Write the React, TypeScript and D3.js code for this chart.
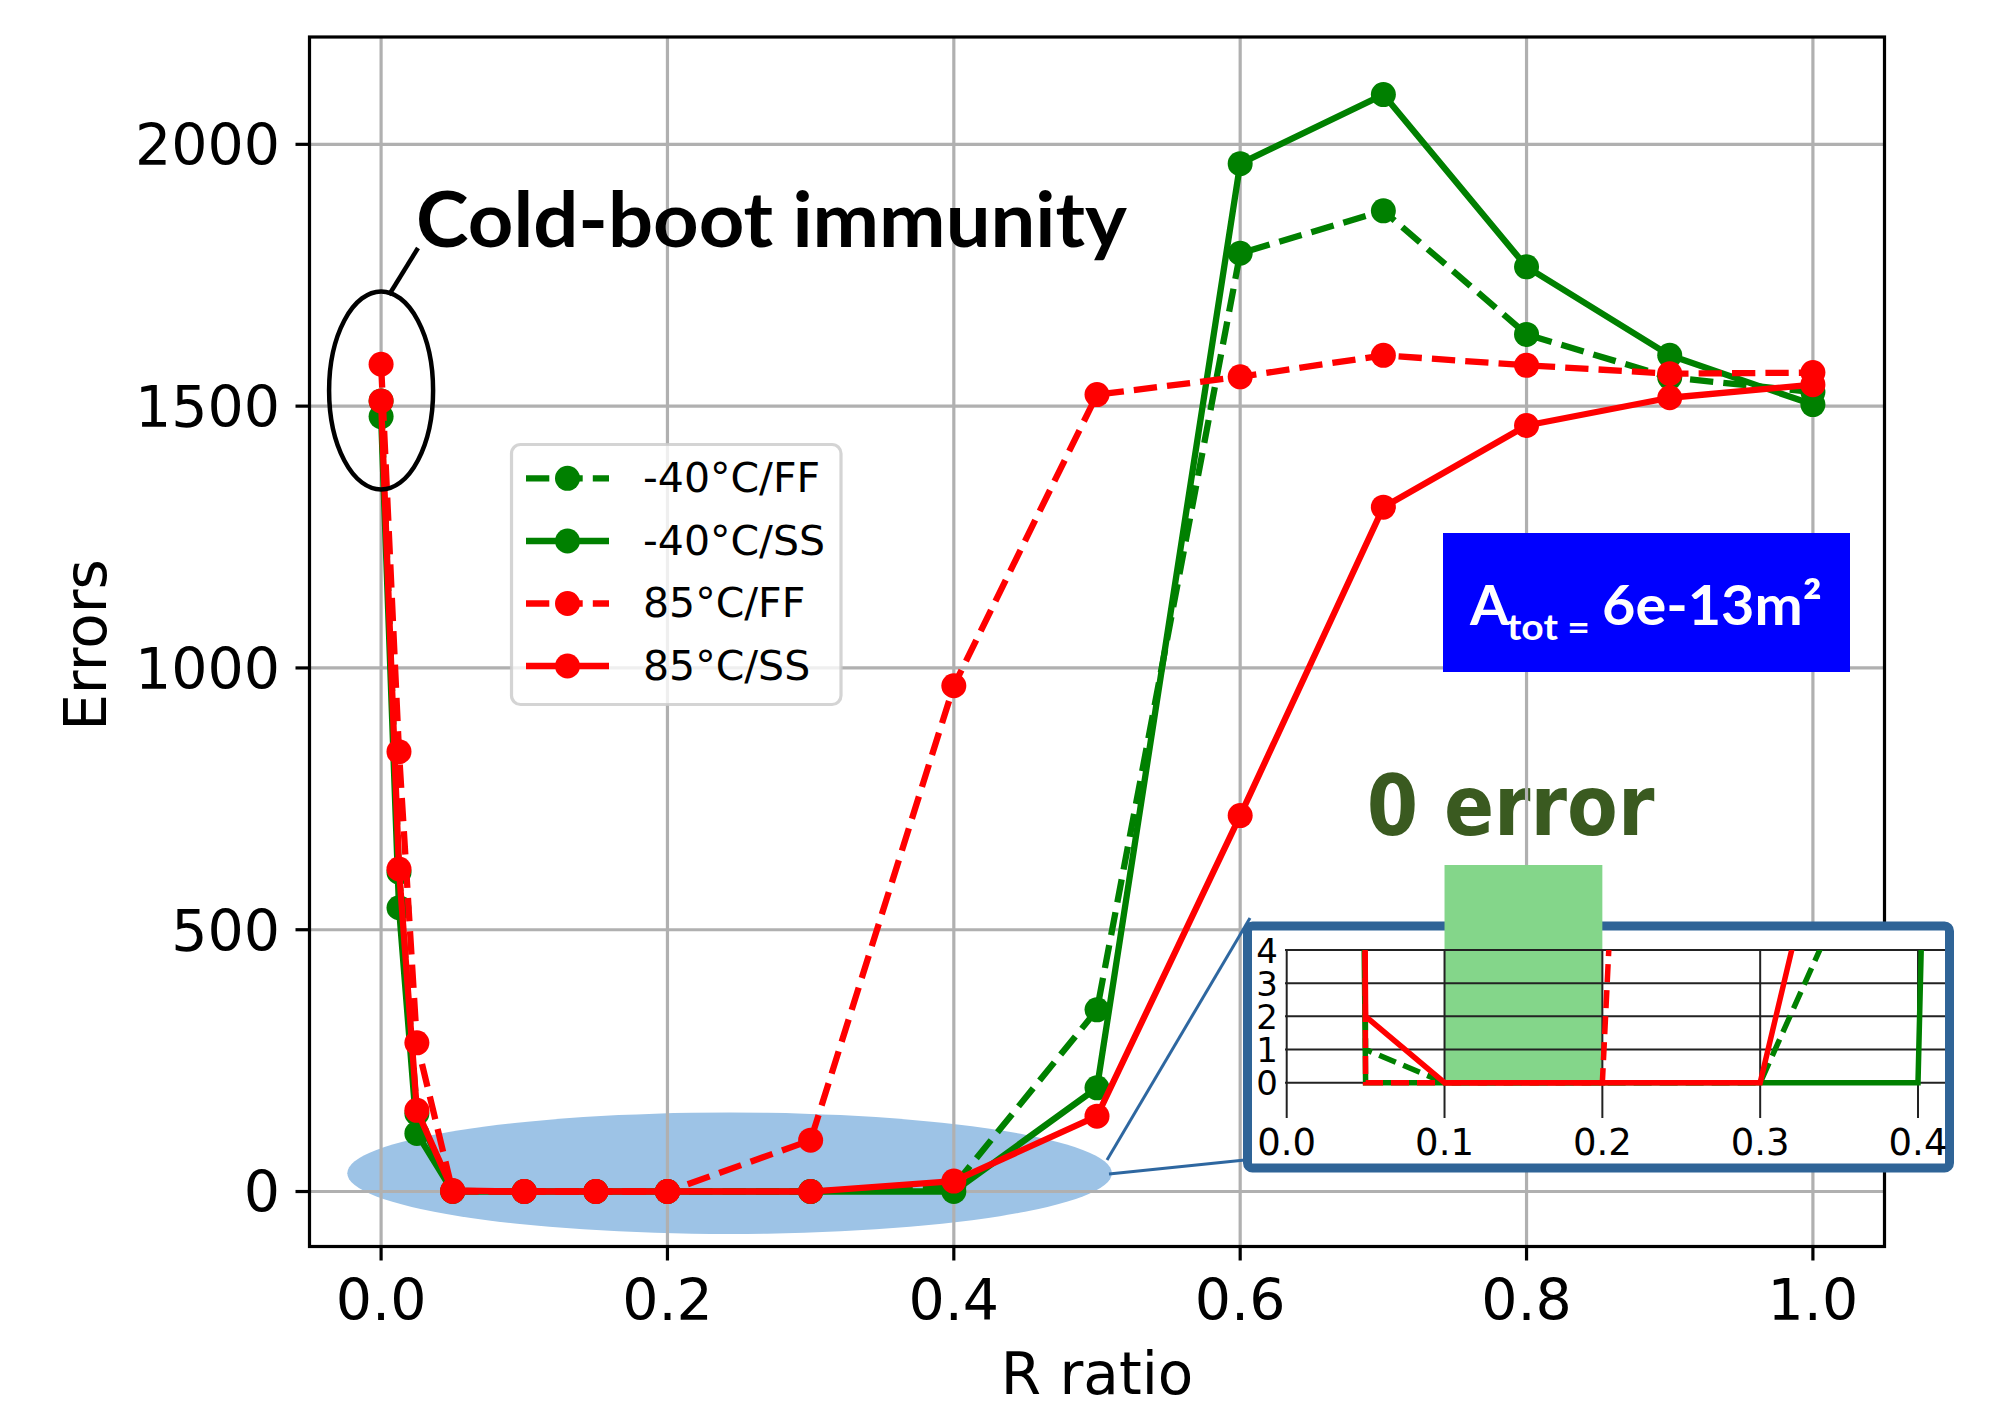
import React from 'react';
import * as d3 from 'd3';

// ---------- data ----------
const rRatio = [0, 0.0125, 0.025, 0.05, 0.1, 0.15, 0.2, 0.3, 0.4, 0.5, 0.6, 0.7, 0.8, 0.9, 1.0];
const errM40FF = [1510, 610, 149, 1, 0, 0, 0, 0, 10.6, 347, 1792, 1873, 1637, 1555, 1527];
const errM40SS = [1480, 542, 111, 0, 0, 0, 0, 0, 0, 198, 1963, 2095, 1766, 1597, 1503];
const err85FF = [1580, 840, 284, 0, 0, 0, 0, 98, 966, 1522, 1556, 1597, 1578, 1562, 1564];
const err85SS = [1510, 616, 155, 2, 0, 0, 0, 0, 20, 144, 718, 1307, 1463, 1516, 1541];
const seriesNames = ['-40°C/FF', '-40°C/SS', '85°C/FF', '85°C/SS'];
const xTicks = [0, 0.2, 0.4, 0.6, 0.8, 1.0];
const yTicks = [0, 500, 1000, 1500, 2000];
const insetXTicks = [0, 0.1, 0.2, 0.3, 0.4];
const insetYTicks = [0, 1, 2, 3, 4];

// ---------- styles ----------
const seriesAll = [errM40FF, errM40SS, err85FF, err85SS];
const seriesColors = ['#008000', '#008000', '#ff0000', '#ff0000'];
const seriesDashed = [true, false, true, false];

const W = 2000;
const H = 1404;
const PL = 309.5, PR = 1884.5, PT = 37, PB = 1246.5;
const GRID = '#b0b0b0';
const FONT = '"DejaVu Sans", sans-serif';
const CAL = 'Lato, "Open Sans", sans-serif';

export default function App() {
  const x = d3.scaleLinear().domain([-0.05, 1.05]).range([PL, PR]);
  const y = d3.scaleLinear().domain([-105, 2205]).range([PB, PT]);

  const xi = d3.scaleLinear().domain([0, 0.4]).range([1286.7, 1918]);
  const yi = d3.scaleLinear().domain([0, 4]).range([1082.7, 950]);

  const line = d3.line<[number, number]>().x(d => x(d[0])).y(d => y(d[1]));
  const lineI = d3.line<[number, number]>().x(d => xi(d[0])).y(d => yi(d[1]));
  const pts = (vals: number[]) => rRatio.map((r, i) => [r, vals[i]] as [number, number]);
  const fmt = d3.format('.1f');

  const legendRows = [478.3, 541, 603.5, 666];

  return (
    <svg width={W} height={H} style={{ position: 'absolute', left: 0, top: 0, background: '#fff' }}
      xmlns="http://www.w3.org/2000/svg">
      <defs>
        <clipPath id="plotClip">
          <rect x={PL} y={PT} width={PR - PL} height={PB - PT} />
        </clipPath>
        <clipPath id="insetClip">
          <rect x={1286} y={950} width={662} height={145} />
        </clipPath>
      </defs>
      <rect x={0} y={0} width={W} height={H} fill="#fff" />

      {/* 0 error text (beneath grid) */}
      <g transform="translate(1366.7,835) scale(1,1.12)">
        <text x={0} y={0} fontFamily={FONT} fontWeight="bold" fontSize={74} fill="#3a5a20">0 error</text>
      </g>

      {/* blue highlight ellipse */}
      <ellipse cx={x(0.2434)} cy={y(35)} rx={x(0.2434 + 0.267) - x(0.2434)} ry={y(-116) - y(0)}
        fill="#9dc3e6" />

      {/* grid */}
      <g stroke={GRID} strokeWidth={3.2}>
        {xTicks.map(t => <line key={'gx' + t} x1={x(t)} x2={x(t)} y1={PT} y2={PB} />)}
        {yTicks.map(t => <line key={'gy' + t} x1={PL} x2={PR} y1={y(t)} y2={y(t)} />)}
      </g>

      {/* ticks and labels */}
      <g stroke="#000" strokeWidth={3.2}>
        {xTicks.map(t => <line key={'tx' + t} x1={x(t)} x2={x(t)} y1={PB} y2={PB + 14} />)}
        {yTicks.map(t => <line key={'ty' + t} x1={PL - 14} x2={PL} y1={y(t)} y2={y(t)} />)}
      </g>
      <g fontFamily={FONT} fontSize={57} fill="#000">
        {xTicks.map(t => (
          <text key={'lx' + t} x={x(t)} y={1320} textAnchor="middle">{fmt(t)}</text>
        ))}
        {yTicks.map(t => (
          <text key={'ly' + t} x={280} y={y(t) + 20.8} textAnchor="end">{t}</text>
        ))}
      </g>
      <text x={(PL + PR) / 2} y={1394} textAnchor="middle" fontFamily={FONT} fontSize={58}>R ratio</text>
      <text transform={`translate(106,645) rotate(-90)`} textAnchor="middle" fontFamily={FONT} fontSize={58}>Errors</text>

      {/* data lines */}
      <g clipPath="url(#plotClip)">
        {seriesAll.map((vals, si) => (
          <g key={'s' + si}>
            <path d={line(pts(vals)) || ''} fill="none" stroke={seriesColors[si]} strokeWidth={6.3}
              strokeDasharray={seriesDashed[si] ? '23.3 10.1' : undefined} strokeLinejoin="round" />
            {pts(vals).map((p, i) => (
              <circle key={i} cx={x(p[0])} cy={y(p[1])} r={12.5} fill={seriesColors[si]} />
            ))}
          </g>
        ))}
      </g>

      {/* spines */}
      <rect x={PL} y={PT} width={PR - PL} height={PB - PT} fill="none" stroke="#000" strokeWidth={3.2} />

      {/* legend */}
      <rect x={511.5} y={444.5} width={329.5} height={260} rx={9} fill="#fff" fillOpacity={0.8}
        stroke="#cccccc" strokeOpacity={0.85} strokeWidth={3.2} />
      {seriesNames.map((nm, i) => (
        <g key={'lg' + i}>
          <line x1={526} x2={609} y1={legendRows[i]} y2={legendRows[i]} stroke={seriesColors[i]} strokeWidth={6.3}
            strokeDasharray={seriesDashed[i] ? '23.3 10.1' : undefined} />
          <circle cx={567.5} cy={legendRows[i]} r={12.5} fill={seriesColors[i]} />
          <text x={643} y={legendRows[i] + 13.8} fontFamily={FONT} fontSize={41}>{nm}</text>
        </g>
      ))}

      {/* cold-boot annotation */}
      <ellipse cx={x(0)} cy={y(1530)} rx={52} ry={99} fill="none" stroke="#000" strokeWidth={4.5} />
      <line x1={389} y1={295} x2={418} y2={248} stroke="#000" strokeWidth={4.5} />
      <text x={416} y={246.7} fontFamily={CAL} fontWeight="bold" fontSize={76} textLength={711}
        lengthAdjust="spacingAndGlyphs">Cold-boot immunity</text>

      {/* area box */}
      <rect x={1443} y={533} width={407} height={139} fill="#0000ff" />
      <g fontFamily={CAL} fontWeight="bold" fill="#fff">
        <text x={1470} y={625} fontSize={56}>A</text>
        <text x={1507} y={640} fontSize={36} textLength={83} lengthAdjust="spacingAndGlyphs">tot =</text>
        <text x={1602} y={625} fontSize={56} textLength={220} lengthAdjust="spacingAndGlyphs">6e-13m²</text>
      </g>

      {/* connectors */}
      <line x1={1107} y1={1160} x2={1250} y2={918} stroke="#2e67a0" strokeWidth={3} />
      <line x1={1109} y1={1174} x2={1245} y2={1160} stroke="#2e67a0" strokeWidth={3} />

      {/* inset */}
      <rect x={1247.5} y={926} width={702} height={242} rx={5} fill="#fff" stroke="#2f6497" strokeWidth={9} />
      <rect x={xi(0.1)} y={865} width={xi(0.2) - xi(0.1)} height={yi(0) - 865} fill="#84d68a" />
      <g stroke="#222" strokeWidth={2}>
        {insetXTicks.map(t => <line key={'ix' + t} x1={xi(t)} x2={xi(t)} y1={yi(4)} y2={1118} />)}
        {insetYTicks.map(t => <line key={'iy' + t} x1={1285} x2={1945} y1={yi(t)} y2={yi(t)} />)}
      </g>
      <g clipPath="url(#insetClip)">
        {seriesAll.map((vals, si) => (
          <path key={'is' + si} d={lineI(pts(vals)) || ''} fill="none" stroke={seriesColors[si]} strokeWidth={5.5}
            strokeDasharray={seriesDashed[si] ? '18 8' : undefined} />
        ))}
      </g>
      <g fontFamily={FONT} fill="#000">
        {insetXTicks.map(t => (
          <text key={'ilx' + t} x={xi(t)} y={1155} fontSize={37} textAnchor="middle">{fmt(t)}</text>
        ))}
        {insetYTicks.map(t => (
          <text key={'ily' + t} x={1278} y={yi(t) + 12.5} fontSize={34} textAnchor="end">{t}</text>
        ))}
      </g>
    </svg>
  );
}
